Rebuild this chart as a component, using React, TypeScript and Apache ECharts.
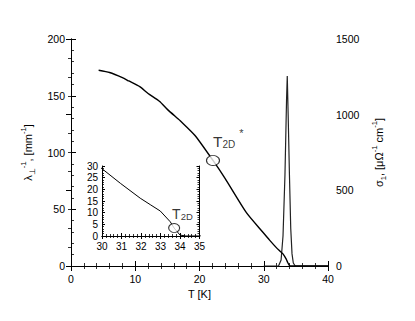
import React, { useEffect, useRef } from "react";
import * as echarts from "echarts";

// Penetration depth data λ⊥^-1 vs T
const T_LAMBDA = [4.3, 6, 8, 9, 10.7, 12, 13.8, 15, 16.6, 17, 19.3, 22.1, 24, 27.3, 29.9, 30.94, 31.96, 32.5, 32.99, 33.5, 33.7, 34.0, 34.3, 35, 40];
const LAMBDA = [172.5, 170.5, 166, 163, 158, 152, 145, 138, 130, 128, 115, 93, 77, 47, 29.5, 22.6, 16.2, 13.3, 10.7, 6.1, 3.4, 0.4, 0, 0, 0];

// Conductivity σ1 vs T
const T_SIGMA = [30, 32.3, 32.7, 33.0, 33.3, 33.55, 33.66, 33.8, 34.0, 34.2, 34.4, 34.6, 34.9, 40];
const SIGMA = [0, 0, 40, 200, 600, 1100, 1256, 1000, 600, 250, 80, 20, 0, 0];

// marker points
const T2D_STAR = [22.1, 93];
const T2D = [33.7, 3.4];

const X_TICKS = { min: 0, max: 40, interval: 10 };
const INSET_X = { min: 30, max: 35, interval: 1 };

const FONT = "Liberation Sans, Arial, Helvetica, sans-serif";

export default function App() {
  const ref = useRef<HTMLDivElement>(null);
  useEffect(() => {
    if (!ref.current) return;
    const chart = echarts.init(ref.current, null, { renderer: "svg" });
    const lambdaData = T_LAMBDA.map((t, i) => [t, LAMBDA[i]]);
    const sigmaData = T_SIGMA.map((t, i) => [t, SIGMA[i]]);
    const black = "#000";
    const line = { show: true, lineStyle: { color: black, width: 1 } };
    const tick = (len: number) => ({ show: true, inside: true, length: len, lineStyle: { color: black, width: 1 } });
    const minor = (n: number, len: number) => ({ show: true, splitNumber: n, length: len, lineStyle: { color: black, width: 0.8 } });
    const lab = (size: number, margin: number) => ({
      color: black, fontSize: size, fontFamily: FONT, margin, formatter: (v: number) => String(v),
    });
    const rich = (base: number) => ({
      n: { fontSize: base, fontFamily: FONT, color: black, lineHeight: base + 6 },
      sub: { fontSize: base * 0.7, fontFamily: FONT, color: black, verticalAlign: "bottom", lineHeight: base + 6 },
      sup: { fontSize: base * 0.7, fontFamily: FONT, color: black, verticalAlign: "top", lineHeight: base + 6 },
    });
    chart.setOption({
      animation: false,
      textStyle: { fontFamily: FONT },
      grid: [
        { left: 71, right: 87, top: 39, bottom: 55 },
        { left: 102, top: 166, width: 97.5, height: 70 },
      ],
      xAxis: [
        {
          gridIndex: 0, type: "value", position: "bottom", ...X_TICKS,
          axisLine: line, axisTick: tick(5), minorTick: minor(5, 3), splitLine: { show: false },
          axisLabel: lab(10.5, 7),
          name: "T [K]", nameLocation: "middle", nameGap: 22,
          nameTextStyle: { color: black, fontSize: 11, fontFamily: FONT },
        },
        {
          gridIndex: 0, type: "value", position: "top", ...X_TICKS,
          axisLine: line, axisTick: tick(5), minorTick: minor(5, 3), splitLine: { show: false },
          axisLabel: { show: false },
        },
        {
          gridIndex: 1, type: "value", position: "bottom", ...INSET_X,
          axisLine: line, axisTick: tick(3), minorTick: minor(5, 2), splitLine: { show: false },
          axisLabel: lab(10, 5),
        },
        {
          gridIndex: 1, type: "value", position: "top", ...INSET_X,
          axisLine: line, axisTick: tick(3), minorTick: minor(5, 2), splitLine: { show: false },
          axisLabel: { show: false },
        },
      ],
      yAxis: [
        {
          gridIndex: 0, type: "value", position: "left", min: 0, max: 200, interval: 50,
          axisLine: line, axisTick: tick(5), minorTick: minor(5, 3), splitLine: { show: false },
          axisLabel: lab(10.5, 6),
          name: "{n|λ}{sub|⊥}{sup|-1}{n|, [mm}{sup|-1}{n|]}",
          nameLocation: "middle", nameGap: 31, nameRotate: 90,
          nameTextStyle: { rich: rich(11) },
        },
        {
          gridIndex: 0, type: "value", position: "right", min: 0, max: 1500, interval: 500,
          axisLine: line, axisTick: tick(5), minorTick: minor(4, 3), splitLine: { show: false },
          axisLabel: lab(10.5, 8),
          name: "{n|σ}{sub|1}{n|, [μΩ}{sup|-1}{n| cm}{sup|-1}{n|]}",
          nameLocation: "middle", nameGap: 42, nameRotate: 90,
          nameTextStyle: { rich: rich(11) },
        },
        {
          gridIndex: 1, type: "value", position: "left", min: 0, max: 30, interval: 5,
          axisLine: line, axisTick: tick(3), minorTick: minor(5, 2), splitLine: { show: false },
          axisLabel: lab(10, 4),
        },
        {
          gridIndex: 1, type: "value", position: "right", min: 0, max: 30, interval: 5,
          axisLine: line, axisTick: tick(3), minorTick: minor(5, 2), splitLine: { show: false },
          axisLabel: { show: false },
        },
      ],
      series: [
        {
          type: "line", xAxisIndex: 0, yAxisIndex: 0, data: lambdaData, showSymbol: false, smooth: 0.2,
          lineStyle: { color: black, width: 1.4 }, z: 3,
        },
        {
          type: "line", xAxisIndex: 0, yAxisIndex: 1, data: sigmaData, showSymbol: false,
          lineStyle: { color: "#222", width: 1.2 }, z: 2,
        },
        {
          type: "line", xAxisIndex: 2, yAxisIndex: 2, data: lambdaData, showSymbol: false, clip: true,
          lineStyle: { color: black, width: 1 }, z: 3,
        },
        {
          type: "scatter", xAxisIndex: 0, yAxisIndex: 0, data: [T2D_STAR],
          symbol: "circle", symbolSize: [13, 10],
          itemStyle: { color: "#fff", borderColor: black, borderWidth: 1 }, z: 5,
          label: {
            show: true, position: [7, -28], align: "left", verticalAlign: "top",
            formatter: "{t|T}{s|2D}{u|*}",
            rich: {
              t: { fontSize: 15.5, fontFamily: FONT, color: black, lineHeight: 22, verticalAlign: "bottom" },
              s: { fontSize: 10, fontFamily: FONT, color: black, lineHeight: 22, verticalAlign: "bottom", padding: [0, 0, 0, 0] },
              u: { fontSize: 11, fontFamily: FONT, color: black, lineHeight: 22, verticalAlign: "top", padding: [0, 0, 0, 4] },
            },
          },
        },
        {
          type: "scatter", xAxisIndex: 2, yAxisIndex: 2, data: [T2D],
          symbol: "circle", symbolSize: [11, 9],
          itemStyle: { color: "#fff", borderColor: black, borderWidth: 1 }, z: 5,
          label: {
            show: true, position: [4, -20], align: "left", verticalAlign: "top",
            formatter: "{t|T}{s|2D}",
            rich: {
              t: { fontSize: 14, fontFamily: FONT, color: black, lineHeight: 18, verticalAlign: "bottom" },
              s: { fontSize: 9.5, fontFamily: FONT, color: black, lineHeight: 18, verticalAlign: "bottom" },
            },
          },
        },
      ],
    });
    return () => chart.dispose();
  }, []);
  return <div ref={ref} style={{ position: "absolute", left: 0, top: 0, width: 415, height: 321 }} />;
}
